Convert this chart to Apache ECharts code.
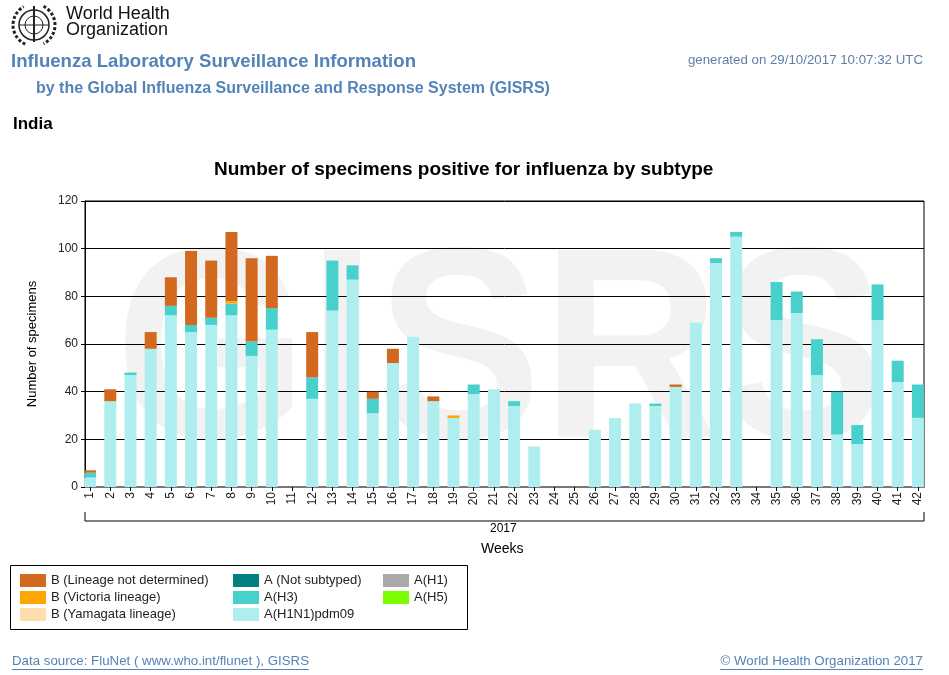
<!DOCTYPE html>
<html>
<head>
    <meta charset="utf-8">
    <script src="https://cdn.jsdelivr.net/npm/echarts@6/dist/echarts.min.js"></script>
    <style>
        html, body { margin: 0; padding: 0; background: #fff; }
        #main { width: 949px; height: 675px; }
    </style>
</head>
<body>
<div id="main"></div>
<script type="text/javascript">
    // weeks of 2017
    var weeks = ['1','2','3','4','5','6','7','8','9','10','11','12','13','14','15','16','17','18','19','20','21',
                 '22','23','24','25','26','27','28','29','30','31','32','33','34','35','36','37','38','39','40','41','42'];

    // number of positive specimens per subtype
    var h1n1pdm09 = [4,36,47,58,72,65,68,72,55,66,0,37,74,87,31,52,63,36,29,39,41,34,17,0,0,24,29,35,34,42,69,94,105,0,70,73,47,22,18,70,44,29];
    var aH3       = [2,0,1,0,4,3,3,5,6,9,0,9,21,6,6,0,0,0,0,4,0,2,0,0,0,0,0,0,1,0,0,2,2,0,16,9,15,18,8,15,9,14];
    var aNotSub   = [0,0,0,0,0,0,0,0,0,0,0,0,0,0,0,0,0,0,0,0,0,0,0,0,0,0,0,0,0,0,0,0,0,0,0,0,0,0,0,0,0,0];
    var aH1       = [0,0,0,0,0,0,0,0,0,0,0,0,0,0,0,0,0,0,0,0,0,0,0,0,0,0,0,0,0,0,0,0,0,0,0,0,0,0,0,0,0,0];
    var aH5       = [0,0,0,0,0,0,0,0,0,0,0,0,0,0,0,0,0,0,0,0,0,0,0,0,0,0,0,0,0,0,0,0,0,0,0,0,0,0,0,0,0,0];
    var bYamagata = [0,0,0,0,0,0,0,0,0,0,0,0,0,0,0,0,0,0,0,0,0,0,0,0,0,0,0,0,0,0,0,0,0,0,0,0,0,0,0,0,0,0];
    var bVictoria = [0,0,0,0,0,0,0,1,0,0,0,0,0,0,0,0,0,0,1,0,0,0,0,0,0,0,0,0,0,0,0,0,0,0,0,0,0,0,0,0,0,0];
    var bNotDet   = [1,5,0,7,12,31,24,29,35,22,0,19,0,0,3,6,0,2,0,0,0,0,0,0,0,0,0,0,0,1,0,0,0,0,0,0,0,0,0,0,0,0];

    var yTicks = [0, 20, 40, 60, 80, 100, 120];

    var font = 'Arial, "Liberation Sans", sans-serif';
    var blue = '#5383b8';

    // stacked bottom to top
    var stackDefs = [
        { name: 'A(H1N1)pdm09',               data: h1n1pdm09, color: '#AFEEEE' },
        { name: 'A(H3)',                      data: aH3,       color: '#48D1CC' },
        { name: 'A (Not subtyped)',           data: aNotSub,   color: '#008080' },
        { name: 'A(H1)',                      data: aH1,       color: '#A9A9A9' },
        { name: 'A(H5)',                      data: aH5,       color: '#7CFC00' },
        { name: 'B (Yamagata lineage)',       data: bYamagata, color: '#FFDEAD' },
        { name: 'B (Victoria lineage)',       data: bVictoria, color: '#FFA500' },
        { name: 'B (Lineage not determined)', data: bNotDet,   color: '#D2691E' }
    ];

    // bars live on grid 1, which is a bit wider than the framed grid 0,
    // so the first and last bar touch the frame like in the original
    var series = [];
    for (var i = 0; i < stackDefs.length; i++) {
        series.push({
            name: stackDefs[i].name,
            type: 'bar',
            stack: 'all',
            xAxisIndex: 1,
            yAxisIndex: 1,
            barWidth: 12,
            itemStyle: { color: stackDefs[i].color },
            data: stackDefs[i].data,
            animation: false
        });
    }

    function legendCol(left, names) {
        return {
            orient: 'vertical',
            left: left,
            top: 569,
            icon: 'rect',
            itemWidth: 26,
            itemHeight: 13,
            itemGap: 4,
            selectedMode: false,
            textStyle: { fontFamily: font, fontSize: 13, color: '#222' },
            data: names
        };
    }

    var yRange = {
        type: 'value',
        min: yTicks[0],
        max: yTicks[yTicks.length - 1],
        interval: yTicks[1] - yTicks[0]
    };

    var myChart = echarts.init(document.getElementById('main'));

    var option = {
        backgroundColor: '#fff',
        animation: false,
        title: {
            text: 'Number of specimens positive for influenza by subtype',
            left: 209,
            top: 155,
            textStyle: { fontFamily: font, fontSize: 19, fontWeight: 'bold', color: '#000' }
        },
        legend: [
            legendCol(15, ['B (Lineage not determined)', 'B (Victoria lineage)', 'B (Yamagata lineage)']),
            legendCol(228, ['A (Not subtyped)', 'A(H3)', 'A(H1N1)pdm09']),
            legendCol(378, ['A(H1)', 'A(H5)'])
        ],
        grid: [
            { left: 85, right: 25, top: 201, bottom: 188, show: true, borderColor: '#000', borderWidth: 1 },
            { left: 80, right: 21, top: 201, bottom: 188 }
        ],
        xAxis: [
            {
                gridIndex: 0,
                type: 'category',
                data: weeks,
                axisLine: { lineStyle: { color: '#777', width: 2 } },
                axisTick: { show: false },
                axisLabel: { show: false }
            },
            {
                gridIndex: 1,
                type: 'category',
                data: weeks,
                axisLine: { show: false },
                axisTick: { show: true, alignWithLabel: true, length: 4, lineStyle: { color: '#000' } },
                axisLabel: { rotate: 90, fontFamily: font, fontSize: 12, color: '#222', margin: 5 }
            }
        ],
        yAxis: [
            Object.assign({}, yRange, {
                gridIndex: 0,
                name: 'Number of specimens',
                nameLocation: 'middle',
                nameGap: 46,
                nameTextStyle: { fontFamily: font, fontSize: 13, color: '#000' },
                axisLine: { show: true, lineStyle: { color: '#000' } },
                axisTick: { show: true, length: 4, lineStyle: { color: '#000' } },
                axisLabel: { fontFamily: font, fontSize: 12, color: '#222', margin: 7 },
                splitLine: { lineStyle: { color: '#000', width: 1 } }
            }),
            Object.assign({}, yRange, { gridIndex: 1, show: false, splitLine: { show: false } })
        ],
        graphic: [
            // GISRS watermark
            { type: 'text', z: -10, x: 115, y: 226, scaleX: 0.91,
              style: { text: 'GISRS', x: 0, y: 0, verticalAlign: 'top', fontFamily: font, fontSize: 272, fontWeight: 'bold', fill: '#f2f2f2' } },
            // WHO emblem (rough)
            { type: 'circle', shape: { cx: 34, cy: 25, r: 15 }, style: { fill: 'none', stroke: '#222', lineWidth: 1.5 } },
            { type: 'circle', shape: { cx: 34, cy: 25, r: 9 },  style: { fill: 'none', stroke: '#222', lineWidth: 1 } },
            { type: 'line', shape: { x1: 19, y1: 25, x2: 49, y2: 25 }, style: { stroke: '#222', lineWidth: 1 } },
            { type: 'line', shape: { x1: 34, y1: 6, x2: 34, y2: 42 }, style: { stroke: '#222', lineWidth: 2 } },
            { type: 'arc', shape: { cx: 34, cy: 25, r: 21, startAngle: 2.0, endAngle: 4.2 }, style: { fill: 'none', stroke: '#222', lineWidth: 3, lineDash: [3, 2] } },
            { type: 'arc', shape: { cx: 34, cy: 25, r: 21, startAngle: -1.1, endAngle: 1.1 }, style: { fill: 'none', stroke: '#222', lineWidth: 3, lineDash: [3, 2] } },
            { type: 'text', left: 66, top: 5,
              style: { text: 'World Health\nOrganization', fontFamily: font, fontSize: 18, lineHeight: 16, fill: '#111' } },
            // header
            { type: 'text', left: 11, top: 52,
              style: { text: 'Influenza Laboratory Surveillance Information', fontFamily: font, fontSize: 18.6, fontWeight: 'bold', fill: blue } },
            { type: 'text', left: 36, top: 81,
              style: { text: 'by the Global Influenza Surveillance and Response System (GISRS)', fontFamily: font, fontSize: 16, fontWeight: 'bold', fill: blue } },
            { type: 'text', right: 26, top: 54,
              style: { text: 'generated on 29/10/2017 10:07:32 UTC', fontFamily: font, fontSize: 13.3, fill: '#5f7ea8' } },
            { type: 'text', left: 13, top: 116,
              style: { text: 'India', fontFamily: font, fontSize: 17, fontWeight: 'bold', fill: '#000' } },
            // year bracket under the axis
            { type: 'polyline', shape: { points: [[85, 512], [85, 521], [924, 521], [924, 512]] },
              style: { fill: 'none', stroke: '#000', lineWidth: 1 } },
            { type: 'text', left: 490, top: 523,
              style: { text: '2017', fontFamily: font, fontSize: 12, fill: '#000' } },
            { type: 'text', left: 481, top: 542,
              style: { text: 'Weeks', fontFamily: font, fontSize: 14, fill: '#000' } },
            // legend box
            { type: 'rect', shape: { x: 10.5, y: 565.5, width: 457, height: 64 },
              style: { fill: 'none', stroke: '#000', lineWidth: 1 } },
            // footer
            { type: 'text', left: 12, top: 655,
              style: { text: 'Data source: FluNet ( www.who.int/flunet ), GISRS', fontFamily: font, fontSize: 13.3, fill: blue } },
            { type: 'line', shape: { x1: 12, y1: 669.5, x2: 309, y2: 669.5 }, style: { stroke: blue, lineWidth: 1 } },
            { type: 'text', right: 26, top: 655,
              style: { text: '\u00a9 World Health Organization 2017', fontFamily: font, fontSize: 13.3, fill: blue } },
            { type: 'line', shape: { x1: 720, y1: 669.5, x2: 923, y2: 669.5 }, style: { stroke: blue, lineWidth: 1 } }
        ],
        series: series
    };

    myChart.setOption(option);

    window.onresize = function() {
        myChart.resize();
    };
</script>
</body>
</html>
